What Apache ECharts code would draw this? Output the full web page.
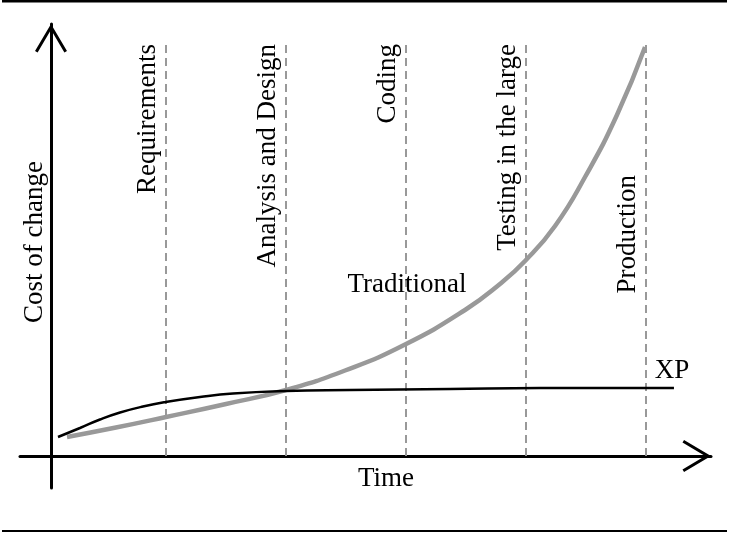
<!DOCTYPE html>
<html><head><meta charset="utf-8">
<script src="https://cdn.jsdelivr.net/npm/echarts@6/dist/echarts.min.js"></script>
<style>html,body{margin:0;padding:0;background:#fff}#c{width:729px;height:536px}</style>
</head><body><div id="c"></div>
<script>
// Time in "phase" units, cost in arbitrary units
const tradTime = [0.175, 0.583, 1.0, 1.5, 2.0, 2.492, 2.992, 3.492, 3.783, 3.992, 4.242, 4.492, 4.758, 4.992];
const tradCost = [4.75, 7.125, 9.75, 13, 16.5, 21.375, 27.875, 36.5, 43, 48.75, 57.5, 69.75, 85.25, 102.25];
const xpTime = [0.1, 0.283, 0.45, 0.617, 0.808, 1.0, 1.283, 1.558, 2.0, 2.533, 3.367, 4.117, 5.233];
const xpCost = [4.75, 7, 9.125, 10.875, 12.375, 13.5, 14.75, 15.625, 16.25, 16.5, 16.75, 17, 17];
const phaseNames = ['Requirements', 'Analysis and Design', 'Coding', 'Testing in the large', 'Production'];
const phaseEnds = [1, 2, 3, 4, 5];
const phaseLineTop = 104;
const tradLabelIndex = 6;

const FONT = 'Liberation Serif';
const chevron = 'path://M16,0 L32,27 L29.42,28.53 L16,5.88 L2.58,28.53 L0,27 Z';

const tradData = tradTime.map((t, i) => {
  const item = { value: [t, tradCost[i]] };
  if (i === tradLabelIndex) {
    item.label = { show: true, position: 'top', distance: 46, offset: [2, 0], formatter: 'Traditional',
      fontFamily: FONT, fontSize: 27, color: '#000' };
  }
  return item;
});
const xpData = xpTime.map((t, i) => {
  const item = { value: [t, xpCost[i]] };
  if (i === xpTime.length - 1) {
    item.label = { show: true, position: 'top', distance: 4, offset: [-2, 0], formatter: 'XP',
      fontFamily: FONT, fontSize: 27, color: '#000' };
  }
  return item;
});
const phaseLines = phaseEnds.map((t, i) => {
  const lab = { formatter: phaseNames[i] };
  if (i === phaseEnds.length - 1) lab.distance = [135, 5];
  return [{ coord: [t, 0], label: lab }, { coord: [t, phaseLineTop], label: lab }];
});

const chart = echarts.init(document.getElementById('c'), null, { renderer: 'canvas' });
chart.setOption({
  backgroundColor: '#fff',
  animation: false,
  graphic: [
    { type: 'line', shape: { x1: 2, y1: 1.2, x2: 727, y2: 1.2 }, style: { stroke: '#000', lineWidth: 2.5 } },
    { type: 'line', shape: { x1: 2, y1: 531, x2: 727, y2: 531 }, style: { stroke: '#000', lineWidth: 2 } }
  ],
  grid: { left: 20, right: 18, top: 24, bottom: 48, containLabel: false },
  xAxis: {
    type: 'value', min: -0.2167, max: 5.5417,
    name: 'Time', nameLocation: 'middle', nameGap: -23,
    nameTextStyle: { fontFamily: FONT, fontSize: 27, color: '#000', padding: [0, 0, 0, 41] },
    axisLine: { show: true, onZero: true, lineStyle: { color: '#000', width: 3 },
      symbol: ['none', chevron], symbolSize: [32, 28.5], symbolOffset: [0, -14.25] },
    axisTick: { show: false }, axisLabel: { show: false }, splitLine: { show: false }
  },
  yAxis: {
    type: 'value', min: -8, max: 108, offset: -31,
    name: 'Cost of change', nameLocation: 'middle', nameGap: 3,
    nameTextStyle: { fontFamily: FONT, fontSize: 27, color: '#000', padding: [0, 0, 0, 28] },
    axisLine: { show: true, onZero: false, lineStyle: { color: '#000', width: 3 },
      symbol: ['none', chevron], symbolSize: [32, 28.5], symbolOffset: [0, -14.25] },
    axisTick: { show: false }, axisLabel: { show: false }, splitLine: { show: false }
  },
  series: [
    {
      name: 'Traditional', type: 'line', data: tradData, smooth: 0.5,
      showSymbol: true, showAllSymbol: true, symbol: 'circle', symbolSize: 0, z: 3,
      lineStyle: { color: '#999', width: 4.5 },
      itemStyle: { color: '#999' },
      emphasis: { disabled: true },
      markLine: {
        silent: true, symbol: 'none', z: 1,
        lineStyle: { color: '#999', width: 2, type: [8, 5] },
        label: { show: true, position: 'insideEndTop', distance: [4, 5],
          fontFamily: FONT, fontSize: 27, color: '#000' },
        emphasis: { disabled: true },
        data: phaseLines
      }
    },
    {
      name: 'XP', type: 'line', data: xpData, smooth: 0.5,
      showSymbol: true, showAllSymbol: true, symbol: 'circle', symbolSize: 0, z: 4,
      lineStyle: { color: '#000', width: 2.5 },
      itemStyle: { color: '#000' },
      emphasis: { disabled: true }
    }
  ]
});
</script></body></html>
